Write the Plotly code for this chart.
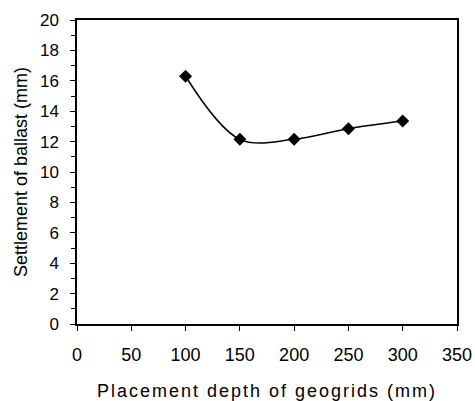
import plotly.graph_objects as go

depth = [100, 150, 200, 250, 300]
settlement = [16.3, 12.15, 12.15, 12.85, 13.35]
x_ticks = [0, 50, 100, 150, 200, 250, 300, 350]
y_ticks = list(range(0, 21, 2))

fig = go.Figure()
fig.add_trace(go.Scatter(
    x=depth, y=settlement, mode="lines+markers",
    line=dict(color="black", width=1.5, shape="spline", smoothing=1.0),
    marker=dict(symbol="diamond", size=10, color="black"),
    showlegend=False,
))

font = "Liberation Sans, Arial, sans-serif"
fig.update_layout(
    width=475, height=401,
    margin=dict(l=77, r=18, t=20, b=77),
    paper_bgcolor="white", plot_bgcolor="white",
    font=dict(family=font, size=18, color="black"),
    xaxis=dict(
        range=[0, 350], tickvals=x_ticks, automargin=False,
        ticks="outside", ticklen=5, tickwidth=1, tickcolor="black",
        ticklabelstandoff=9,
        showline=True, linecolor="black", linewidth=1.5, mirror=True,
        showgrid=False, zeroline=False,
        title=dict(text="Placement depth of geogrids (mm)", font=dict(size=18), standoff=22),
        tickfont=dict(size=18),
    ),
    yaxis=dict(
        range=[0, 20], tickvals=y_ticks, automargin=False,
        ticks="outside", ticklen=5, tickwidth=1, tickcolor="black",
        ticklabelstandoff=8,
        minor=dict(tickvals=list(range(1, 20, 2)), ticks="outside", ticklen=4, tickcolor="black"),
        showline=True, linecolor="black", linewidth=1.5, mirror=True,
        showgrid=False, zeroline=False,
        title=dict(text="Settlement of ballast (mm)", font=dict(size=18), standoff=8),
        tickfont=dict(size=17),
    ),
)
post = """
var t = document.querySelector('.xtitle');
if (t) { t.style.letterSpacing = '2px'; }
"""
fig.write_html("out.html", post_script=post)
